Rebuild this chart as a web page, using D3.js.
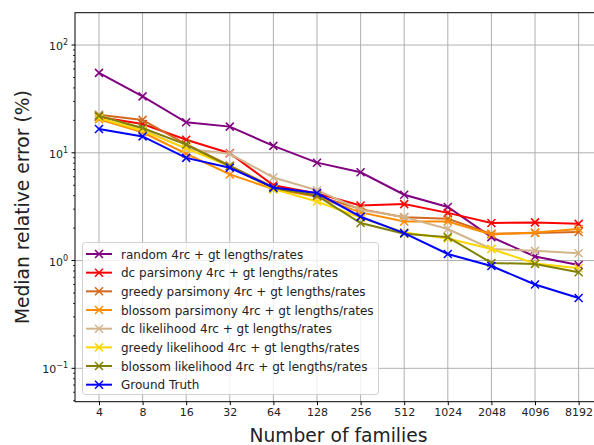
<!DOCTYPE html>
<html>
<head>
<meta charset="utf-8">
<script src="https://cdn.jsdelivr.net/npm/d3@7"></script>
<style>
  body { margin: 0; background: #fff; }
  text { font-family: "DejaVu Sans", sans-serif; fill: #222; }
</style>
</head>
<body>
<div id="chart"></div>
<script>
// families (x) and median relative error (%) per method
var families = [4, 8, 16, 32, 64, 128, 256, 512, 1024, 2048, 4096, 8192];

var randomErr    = [55.2, 33.4, 19.2, 17.5, 11.6, 8.1, 6.6, 4.08, 3.14, 1.65, 1.09, 0.91];
var dcPars       = [21.5, 18.5, 13.2, 9.9, 5.0, 4.2, 3.24, 3.34, 2.77, 2.23, 2.26, 2.19];
var greedyPars   = [22.5, 20.2, 12.0, 7.6, 4.8, 4.0, 3.0, 2.52, 2.44, 1.77, 1.80, 1.84];
var blossomPars  = [20.5, 15.5, 9.8, 6.3, 4.6, 3.9, 2.8, 2.30, 2.30, 1.75, 1.82, 1.96];
var dcLik        = [22.5, 16.4, 10.9, 9.8, 5.9, 4.5, 2.96, 2.53, 1.96, 1.28, 1.23, 1.17];
var greedyLik    = [21.0, 16.0, 11.0, 7.5, 4.6, 3.53, 2.5, 1.82, 1.60, 1.28, 0.94, 0.85];
var blossomLik   = [22.0, 17.0, 11.9, 7.5, 4.7, 4.0, 2.23, 1.77, 1.65, 0.95, 0.93, 0.78];
var groundTruth  = [16.6, 14.2, 8.97, 7.27, 4.77, 4.23, 2.55, 1.80, 1.15, 0.89, 0.60, 0.45];

var seriesNames = [
  "random 4rc + gt lengths/rates",
  "dc parsimony 4rc + gt lengths/rates",
  "greedy parsimony 4rc + gt lengths/rates",
  "blossom parsimony 4rc + gt lengths/rates",
  "dc likelihood 4rc + gt lengths/rates",
  "greedy likelihood 4rc + gt lengths/rates",
  "blossom likelihood 4rc + gt lengths/rates",
  "Ground Truth"
];
var seriesValues = [randomErr, dcPars, greedyPars, blossomPars, dcLik, greedyLik, blossomLik, groundTruth];
var seriesColors = ["#800080", "#ff0000", "#d2691e", "#ff8c00", "#d2b48c", "#ffd700", "#808000", "#0000ff"];

var yMajor = [0.1, 1, 10, 100];
var yExp   = ["\u22121", "0", "1", "2"];

var W = 594, H = 445;
var mLeft = 75, mTop = 12.7, mBottom = 401.7, mRight = 602.6;

var x = d3.scaleLog().base(2)
  .domain([Math.pow(2, 1.45), Math.pow(2, 13.55)])
  .range([mLeft, mRight]);

var y = d3.scaleLog()
  .domain([0.049, 199.6])
  .range([mBottom, mTop]);

var svg = d3.select("#chart").append("svg")
  .attr("width", W).attr("height", H);

// minor ticks on y (log)
var yMinor = [];
[0.01, 0.1, 1, 10, 100].forEach(function(d) {
  for (var k = 2; k <= 9; k++) {
    var v = d * k;
    if (v > y.domain()[0] && v < y.domain()[1]) yMinor.push(v);
  }
});

// grid
var grid = svg.append("g");
grid.selectAll(".gx").data(families).enter().append("line")
  .attr("x1", function(d) { return x(d); }).attr("x2", function(d) { return x(d); })
  .attr("y1", mTop).attr("y2", mBottom)
  .attr("stroke", "#b0b0b0").attr("stroke-width", 1);
grid.selectAll(".gy").data(yMajor).enter().append("line")
  .attr("x1", mLeft).attr("x2", mRight)
  .attr("y1", function(d) { return y(d); }).attr("y2", function(d) { return y(d); })
  .attr("stroke", "#b0b0b0").attr("stroke-width", 1);

// series
var line = d3.line()
  .x(function(d, i) { return x(families[i]); })
  .y(function(d) { return y(d); });

seriesValues.forEach(function(vals, s) {
  var g = svg.append("g");
  g.append("path")
    .attr("d", line(vals))
    .attr("fill", "none")
    .attr("stroke", seriesColors[s])
    .attr("stroke-width", 2);
  g.selectAll("path.m").data(vals).enter().append("path")
    .attr("class", "m")
    .attr("transform", function(d, i) { return "translate(" + x(families[i]) + "," + y(d) + ")"; })
    .attr("d", "M-4,-4L4,4M-4,4L4,-4")
    .attr("stroke", seriesColors[s])
    .attr("stroke-width", 1.5);
});

// spines
svg.append("rect")
  .attr("x", mLeft).attr("y", mTop)
  .attr("width", mRight - mLeft).attr("height", mBottom - mTop)
  .attr("fill", "none").attr("stroke", "#000").attr("stroke-width", 1);

// x axis
var xAxis = d3.axisBottom(x)
  .tickValues(families)
  .tickFormat(d3.format("d"))
  .tickSize(3.5).tickPadding(3.5);
var gx = svg.append("g")
  .attr("transform", "translate(0," + mBottom + ")")
  .call(xAxis);
gx.select(".domain").remove();
gx.selectAll("text").attr("font-size", 11).attr("fill", "#222").attr("font-family", "DejaVu Sans");

// y axis, major ticks with power labels
var gy = svg.append("g");
gy.selectAll(".tmaj").data(yMajor).enter().append("line")
  .attr("x1", mLeft - 3.5).attr("x2", mLeft)
  .attr("y1", function(d) { return y(d); }).attr("y2", function(d) { return y(d); })
  .attr("stroke", "#000");
gy.selectAll(".tmin").data(yMinor).enter().append("line")
  .attr("x1", mLeft - 2).attr("x2", mLeft)
  .attr("y1", function(d) { return y(d); }).attr("y2", function(d) { return y(d); })
  .attr("stroke", "#000").attr("stroke-width", 0.8);
var lab = gy.selectAll(".lab").data(yMajor).enter().append("text")
  .attr("x", mLeft - 7)
  .attr("y", function(d) { return y(d) + 5; })
  .attr("text-anchor", "end")
  .attr("font-size", 11);
lab.append("tspan").text("10");
lab.append("tspan")
  .attr("dy", -5).attr("font-size", 8)
  .text(function(d, i) { return yExp[i]; });

// axis titles
svg.append("text")
  .attr("x", 338.5).attr("y", 442)
  .attr("text-anchor", "middle")
  .attr("font-size", 18.7)
  .attr("fill", "#000")
  .text("Number of families");
svg.append("text")
  .attr("transform", "translate(29," + ((mTop + mBottom) / 2) + ") rotate(-90)")
  .attr("text-anchor", "middle")
  .attr("font-size", 18.7)
  .attr("fill", "#000")
  .text("Median relative error (%)");

// legend
var lg = svg.append("g");
lg.append("rect")
  .attr("x", 82.5).attr("y", 242.5)
  .attr("width", 296).attr("height", 152)
  .attr("rx", 3)
  .attr("fill", "#fff").attr("fill-opacity", 0.8)
  .attr("stroke", "#d0d0d0");
var item = lg.selectAll(".item").data(seriesNames).enter().append("g")
  .attr("transform", function(d, i) { return "translate(0," + (254 + i * 18.67) + ")"; });
item.append("line")
  .attr("x1", 86).attr("x2", 112).attr("y1", 0).attr("y2", 0)
  .attr("stroke", function(d, i) { return seriesColors[i]; })
  .attr("stroke-width", 2);
item.append("path")
  .attr("d", "M95,-4L103,4M95,4L103,-4")
  .attr("stroke", function(d, i) { return seriesColors[i]; })
  .attr("stroke-width", 1.5);
item.append("text")
  .attr("x", 121).attr("y", 4.5)
  .attr("font-size", 12)
  .text(function(d) { return d; });
</script>
</body>
</html>
